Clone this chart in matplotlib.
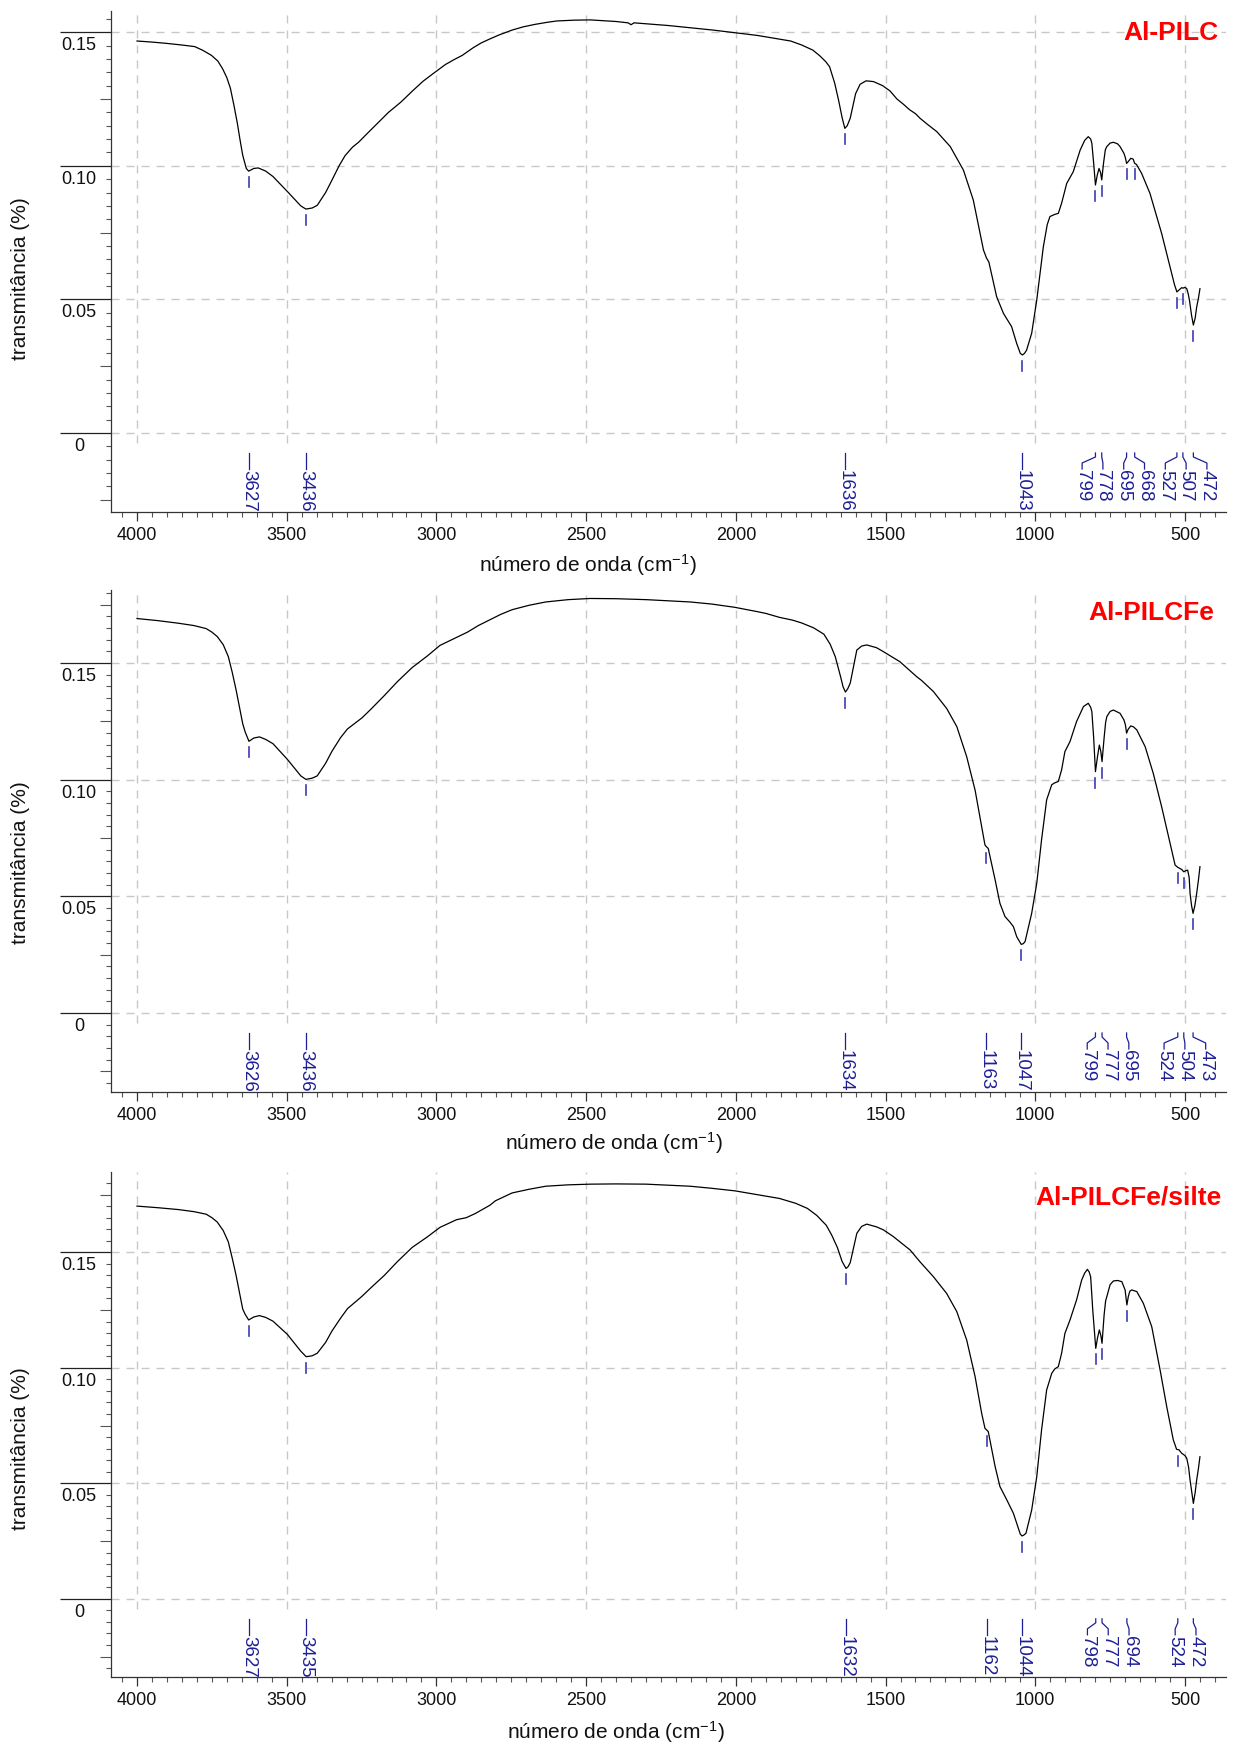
import numpy as np
import matplotlib
matplotlib.use('Agg')
import matplotlib.pyplot as plt
from matplotlib.ticker import FixedLocator, MultipleLocator, NullFormatter
from matplotlib.transforms import offset_copy

plt.rcParams['font.family'] = ['Liberation Sans', 'DejaVu Sans']
plt.rcParams['mathtext.fontset'] = 'custom'
plt.rcParams['mathtext.rm'] = 'Liberation Sans'
plt.rcParams['mathtext.it'] = 'Liberation Sans:italic'
plt.rcParams['mathtext.bf'] = 'Liberation Sans:bold'

# ---------------- data ----------------
titles = ['Al-PILC', 'Al-PILCFe', 'Al-PILCFe/silte']

wn1 = [4000, 3950, 3900, 3850, 3807, 3780, 3751, 3730, 3714, 3700, 3688, 3676, 3665, 3656, 3647,
       3640, 3635, 3627, 3610, 3595, 3570, 3546, 3498, 3453, 3436, 3415, 3398, 3370, 3349, 3325,
       3305, 3280, 3260, 3230, 3193, 3160, 3119, 3080, 3044, 3005, 2970, 2940, 2914, 2877, 2850,
       2821, 2790, 2747, 2710, 2672, 2630, 2598, 2540, 2486, 2400, 2360, 2350, 2340, 2226, 2077,
       1929, 1817, 1780, 1743, 1720, 1700, 1687, 1670, 1657, 1645, 1636, 1628, 1618, 1600, 1585,
       1565, 1540, 1510, 1485, 1462, 1440, 1420, 1400, 1385, 1360, 1329, 1284, 1240, 1207, 1173,
       1163, 1155, 1129, 1106, 1079, 1062, 1050, 1043, 1036, 1029, 1012, 995, 973, 960, 951,
       935, 923, 912, 895, 873, 850, 835, 823, 815, 811, 805, 799, 793, 787, 782,
       778, 772, 766, 761, 750, 739, 725, 717, 704, 699, 695, 690, 681, 673, 668,
       662, 645, 617, 578, 550, 535, 527, 520, 511, 507, 500, 494, 489, 485, 478,
       472, 466, 461, 455, 450]
t1 = [0.1467, 0.1463, 0.1458, 0.1452, 0.1446, 0.1432, 0.1413, 0.1392, 0.1363, 0.1330, 0.1290, 0.1225, 0.1160, 0.1098, 0.1040,
      0.1010, 0.0990, 0.0980, 0.0990, 0.0992, 0.0980, 0.0960, 0.0904, 0.0850, 0.0838, 0.0842, 0.0852, 0.0900, 0.0946, 0.1000,
      0.1038, 0.1070, 0.1088, 0.1122, 0.1163, 0.1200, 0.1238, 0.1280, 0.1317, 0.1350, 0.1379, 0.1398, 0.1413, 0.1442, 0.1460,
      0.1475, 0.1490, 0.1508, 0.1520, 0.1529, 0.1537, 0.1542, 0.1545, 0.1546, 0.1540, 0.1535, 0.1528, 0.1535, 0.1525, 0.1508,
      0.1488, 0.1467, 0.1452, 0.1433, 0.1412, 0.1390, 0.1371, 0.1310, 0.1246, 0.1180, 0.1140, 0.1150, 0.1178, 0.1270, 0.1305,
      0.1318, 0.1315, 0.1300, 0.1280, 0.1250, 0.1230, 0.1210, 0.1195, 0.1178, 0.1155, 0.1128, 0.1072, 0.0984, 0.0872, 0.0685,
      0.0655, 0.0640, 0.0510, 0.0447, 0.0398, 0.0335, 0.0298, 0.0292, 0.0298, 0.0310, 0.0373, 0.0498, 0.0697, 0.0780, 0.0810,
      0.0818, 0.0822, 0.0860, 0.0934, 0.0978, 0.1059, 0.1095, 0.1109, 0.1100, 0.1084, 0.1010, 0.0928, 0.0965, 0.0990, 0.0975,
      0.0947, 0.1010, 0.1060, 0.1072, 0.1085, 0.1088, 0.1082, 0.1072, 0.1047, 0.1030, 0.1009, 0.1015, 0.1028, 0.1025, 0.1009,
      0.1005, 0.0972, 0.0897, 0.0747, 0.0622, 0.0555, 0.0528, 0.0535, 0.0544, 0.0542, 0.0545, 0.0540, 0.0520, 0.0496, 0.0440,
      0.0404, 0.0430, 0.0471, 0.0505, 0.0540]

wn2 = [4000, 3930, 3862, 3810, 3769, 3750, 3732, 3712, 3695, 3682, 3669, 3657, 3647, 3639, 3632,
       3626, 3610, 3591, 3570, 3546, 3498, 3453, 3436, 3415, 3398, 3370, 3349, 3320, 3297, 3249,
       3220, 3174, 3130, 3081, 3030, 2988, 2940, 2896, 2860, 2821, 2785, 2747, 2690, 2635, 2560,
       2486, 2400, 2300, 2152, 2080, 2003, 1930, 1900, 1854, 1810, 1780, 1740, 1706, 1685, 1668,
       1650, 1642, 1634, 1626, 1618, 1596, 1580, 1563, 1530, 1507, 1452, 1396, 1385, 1379, 1340,
       1296, 1262, 1229, 1201, 1179, 1168, 1163, 1157, 1134, 1118, 1101, 1085, 1073, 1062, 1047,
       1040, 1034, 1012, 995, 979, 962, 945, 935, 923, 912, 901, 884, 862, 839, 823,
       815, 811, 805, 799, 792, 786, 781, 777, 770, 765, 761, 750, 739, 717, 704,
       699, 695, 690, 681, 672, 661, 633, 606, 578, 555, 533, 524, 511, 504, 497,
       491, 486, 483, 478, 473, 467, 461, 455, 450]
t2 = [0.1690, 0.1681, 0.1670, 0.1660, 0.1647, 0.1632, 0.1613, 0.1578, 0.1527, 0.1460, 0.1384, 0.1305, 0.1240, 0.1205, 0.1183,
      0.1164, 0.1178, 0.1183, 0.1172, 0.1154, 0.1087, 0.1016, 0.1001, 0.1006, 0.1016, 0.1070, 0.1121, 0.1180, 0.1217, 0.1264,
      0.1300, 0.1360, 0.1420, 0.1480, 0.1530, 0.1575, 0.1605, 0.1632, 0.1660, 0.1685, 0.1708, 0.1728, 0.1747, 0.1761, 0.1771,
      0.1776, 0.1775, 0.1771, 0.1761, 0.1752, 0.1738, 0.1720, 0.1712, 0.1695, 0.1683, 0.1671, 0.1650, 0.1623, 0.1580, 0.1527,
      0.1440, 0.1398, 0.1375, 0.1390, 0.1413, 0.1555, 0.1572, 0.1577, 0.1565, 0.1548, 0.1505, 0.1441, 0.1430, 0.1424, 0.1377,
      0.1305, 0.1227, 0.1098, 0.0955, 0.0798, 0.0720, 0.0712, 0.0705, 0.0570, 0.0470, 0.0413, 0.0390, 0.0370, 0.0327, 0.0294,
      0.0297, 0.0306, 0.0427, 0.0556, 0.0742, 0.0913, 0.0978, 0.0986, 0.0992, 0.1042, 0.1120, 0.1163, 0.1249, 0.1313, 0.1327,
      0.1310, 0.1291, 0.1180, 0.1034, 0.1100, 0.1148, 0.1120, 0.1077, 0.1180, 0.1245, 0.1270, 0.1292, 0.1298, 0.1284, 0.1256,
      0.1235, 0.1199, 0.1215, 0.1230, 0.1226, 0.1213, 0.1141, 0.1027, 0.0884, 0.0756, 0.0634, 0.0624, 0.0615, 0.0605, 0.0610,
      0.0612, 0.0580, 0.0512, 0.0460, 0.0427, 0.0460, 0.0512, 0.0570, 0.0627]

wn3 = [4000, 3930, 3862, 3810, 3769, 3750, 3732, 3712, 3695, 3682, 3669, 3657, 3647, 3639, 3632,
       3627, 3610, 3591, 3570, 3546, 3498, 3453, 3435, 3415, 3398, 3370, 3349, 3320, 3297, 3249,
       3220, 3174, 3130, 3081, 3030, 2988, 2933, 2900, 2870, 2821, 2803, 2747, 2690, 2635, 2560,
       2486, 2400, 2300, 2152, 2080, 2003, 1930, 1854, 1800, 1761, 1730, 1698, 1680, 1661, 1645,
       1632, 1625, 1618, 1596, 1580, 1563, 1530, 1507, 1474, 1418, 1385, 1340, 1296, 1262, 1229,
       1201, 1179, 1168, 1162, 1157, 1134, 1118, 1095, 1073, 1062, 1050, 1044, 1038, 1031, 1012,
       995, 979, 962, 945, 935, 923, 912, 901, 884, 862, 845, 835, 826, 820, 815,
       808, 798, 792, 786, 781, 777, 770, 765, 761, 750, 739, 725, 711, 700, 694,
       689, 684, 678, 661, 639, 611, 583, 561, 539, 528, 520, 511, 500, 494, 488,
       483, 472, 466, 461, 455, 450]
t3 = [0.1700, 0.1693, 0.1685, 0.1676, 0.1665, 0.1650, 0.1631, 0.1594, 0.1545, 0.1475, 0.1400, 0.1320, 0.1255, 0.1232, 0.1217,
      0.1207, 0.1220, 0.1226, 0.1218, 0.1202, 0.1145, 0.1072, 0.1048, 0.1052, 0.1063, 0.1110, 0.1159, 0.1215, 0.1256, 0.1309,
      0.1345, 0.1400, 0.1460, 0.1521, 0.1567, 0.1608, 0.1641, 0.1650, 0.1668, 0.1704, 0.1723, 0.1757, 0.1773, 0.1786, 0.1792,
      0.1795, 0.1796, 0.1795, 0.1786, 0.1777, 0.1766, 0.1750, 0.1733, 0.1712, 0.1690, 0.1660, 0.1617, 0.1575, 0.1521, 0.1460,
      0.1430, 0.1438, 0.1455, 0.1582, 0.1612, 0.1622, 0.1610, 0.1597, 0.1568, 0.1510, 0.1459, 0.1394, 0.1322, 0.1243, 0.1120,
      0.0962, 0.0803, 0.0738, 0.0730, 0.0724, 0.0572, 0.0486, 0.0428, 0.0370, 0.0327, 0.0280, 0.0272, 0.0276, 0.0284, 0.0384,
      0.0529, 0.0731, 0.0904, 0.0976, 0.0995, 0.1005, 0.1063, 0.1149, 0.1207, 0.1294, 0.1380, 0.1410, 0.1426, 0.1415, 0.1394,
      0.1250, 0.1084, 0.1130, 0.1164, 0.1140, 0.1106, 0.1230, 0.1290, 0.1308, 0.1360, 0.1376, 0.1378, 0.1373, 0.1337, 0.1272,
      0.1310, 0.1332, 0.1337, 0.1330, 0.1279, 0.1178, 0.0990, 0.0832, 0.0688, 0.0647, 0.0645, 0.0630, 0.0620, 0.0608, 0.0570,
      0.0514, 0.0413, 0.0460, 0.0514, 0.0565, 0.0615]

peaks1 = [3627, 3436, 1636, 1043, 799, 778, 695, 668, 527, 507, 472]
peaks2 = [3626, 3436, 1634, 1163, 1047, 799, 777, 695, 524, 504, 473]
peaks3 = [3627, 3435, 1632, 1162, 1044, 798, 777, 694, 524, 472]

xticks = [4000, 3500, 3000, 2500, 2000, 1500, 1000, 500]
xticklabels = ['4000', '3500', '3000', '2500', '2000', '1500', '1000', '500']
yticks = [0, 0.05, 0.10, 0.15]
yticklabels = ['0', '0.05', '0.10', '0.15']

# ---------------- layout ----------------
W, H = 1233, 1747
fig = plt.figure(figsize=(W / 100, H / 100), dpi=100)

panels = [
    dict(wn=wn1, t=t1, peaks=peaks1, title=titles[0],
         rect=(111, 11, 512), ylim=(-0.02957, 0.15793),
         title_xy=(0.9928, 0.956), ylab_y=0.465, xlab=(0.428, -0.105)),
    dict(wn=wn2, t=t2, peaks=peaks2, title=titles[1],
         rect=(111, 590, 1092), ylim=(-0.03385, 0.18123),
         title_xy=(0.989, 0.955), ylab_y=0.456, xlab=(0.451, -0.101)),
    dict(wn=wn3, t=t3, peaks=peaks3, title=titles[2],
         rect=(111, 1172, 1677), ylim=(-0.03385, 0.18476),
         title_xy=(0.996, 0.950), ylab_y=0.453, xlab=(0.453, -0.109)),
]

grid_color = '#c8c8c8'
dash = (0, (5.8, 5.0))
blue = '#1e1e96'
tickblue = '#3c3cb0'
axis_color = '#333333'


def spread(xs, gap):
    xs = np.asarray(xs, dtype=float)
    order = np.argsort(xs)
    sx = xs[order]
    groups = [[i] for i in range(len(sx))]

    def pos(g):
        c = sx[g].mean()
        return c + (np.arange(len(g)) - (len(g) - 1) / 2.0) * gap

    merged = True
    while merged:
        merged = False
        for k in range(len(groups) - 1):
            p1 = pos(groups[k])
            p2 = pos(groups[k + 1])
            if p2[0] - p1[-1] < gap - 1e-6:
                groups[k] = groups[k] + groups[k + 1]
                del groups[k + 1]
                merged = True
                break
    out = np.empty(len(sx))
    for g in groups:
        out[g] = pos(g)
    res = np.empty(len(sx))
    res[order] = out
    return res


for p in panels:
    left_px, top_px, bot_px = p['rect']
    right_px = 1226
    ax = fig.add_axes([left_px / W, 1 - bot_px / H, (right_px - left_px) / W, (bot_px - top_px) / H])
    ax.set_xlim(4086.8, 363)
    ax.set_ylim(*p['ylim'])

    for s in ['top', 'right']:
        ax.spines[s].set_visible(False)
    for s in ['left', 'bottom']:
        ax.spines[s].set_color(axis_color)
        ax.spines[s].set_linewidth(0.9)

    # x ticks
    ax.xaxis.set_major_locator(FixedLocator(xticks))
    ax.set_xticklabels(xticklabels)
    ax.xaxis.set_minor_locator(MultipleLocator(50))
    ax.tick_params(axis='x', which='major', direction='out', length=6.5, width=0.9,
                   color=axis_color, labelsize=13, pad=4.5, labelcolor='#111111')
    ax.tick_params(axis='x', which='minor', direction='out', length=3.6, width=0.8, color='#555555')

    # y ticks
    ax.yaxis.set_major_locator(FixedLocator(yticks))
    ax.yaxis.set_major_formatter(NullFormatter())
    ax.yaxis.set_minor_locator(MultipleLocator(0.005))
    ax.tick_params(axis='y', which='major', direction='out', length=36.7, width=0.9, color='#222222')
    ax.tick_params(axis='y', which='minor', direction='out', length=3.6, width=0.8, color='#555555')
    locs = ax.yaxis.get_minorticklocs()
    mticks = ax.yaxis.get_minor_ticks(len(locs))
    for loc, tk in zip(locs, mticks):
        r = loc / 0.025
        if abs(r - round(r)) < 1e-6:
            tk.tick1line.set_markersize(8)

    ytrans = offset_copy(ax.get_yaxis_transform(), fig=fig, x=0, y=-5, units='dots')
    for v, lab in zip(yticks, yticklabels):
        ax.text(-0.0287, v, lab, transform=ytrans, ha='center', va='top', fontsize=13,
                color='#111111', clip_on=False)

    # grid
    ax.yaxis.grid(True, which='major', color=grid_color, linestyle=dash, linewidth=1.0, zorder=0)
    inv = ax.transData.inverted()
    y0_disp = ax.transData.transform((1000, 0))[1]
    vbot = inv.transform((0, y0_disp - 10))[1]
    ax.vlines(xticks, vbot, p['ylim'][1], colors=grid_color, linestyles=dash, linewidth=1.0, zorder=0)

    # spectrum
    ax.plot(p['wn'], p['t'], color='black', linewidth=0.9, zorder=3)

    # peak markers and labels
    pk = np.array(p['peaks'], dtype=float)
    wn_arr = np.array(p['wn'], dtype=float)[::-1]
    t_arr = np.array(p['t'], dtype=float)[::-1]
    yv = np.interp(pk, wn_arr, t_arr)
    px = np.array([ax.transData.transform((w, 0))[0] for w in pk])
    tx = spread(px, 20.8)
    for w, yy, xp, xt in zip(pk, yv, px, tx):
        yc = ax.transData.transform((w, yy))[1]
        a = inv.transform((xp, yc - 6))
        b = inv.transform((xp, yc - 16))
        ax.plot([a[0], b[0]], [a[1], b[1]], color=tickblue, linewidth=1.2, zorder=4)
        if abs(xt - xp) < 0.5:
            pts = [(xp, y0_disp - 20), (xp, y0_disp - 36)]
        else:
            pts = [(xp, y0_disp - 20), (xp, y0_disp - 24), (xt, y0_disp - 30), (xt, y0_disp - 36)]
        dpts = inv.transform(pts)
        ax.plot(dpts[:, 0], dpts[:, 1], color=blue, linewidth=0.9, zorder=4)
        tpos = inv.transform((xt, y0_disp - 37))
        ax.text(tpos[0], tpos[1], '%d' % int(w), rotation=-90, ha='center', va='top',
                fontsize=13.5, color=blue, zorder=5)

    # title
    ax.text(p['title_xy'][0], p['title_xy'][1], p['title'], transform=ax.transAxes,
            ha='right', va='center', fontsize=19, fontweight='bold', color='#ff0000')

    # axis labels
    ax.set_xlabel('número de onda (cm$^{-1}$)', fontsize=15, color='#111111')
    ax.xaxis.set_label_coords(p['xlab'][0], p['xlab'][1])
    ax.xaxis.label.set_va('center')
    ax.set_ylabel('transmitância (%)', fontsize=15, color='#111111')
    ax.yaxis.set_label_coords(-0.0816, p['ylab_y'])
    ax.yaxis.label.set_va('center')

fig.savefig('out.png', dpi=100)
